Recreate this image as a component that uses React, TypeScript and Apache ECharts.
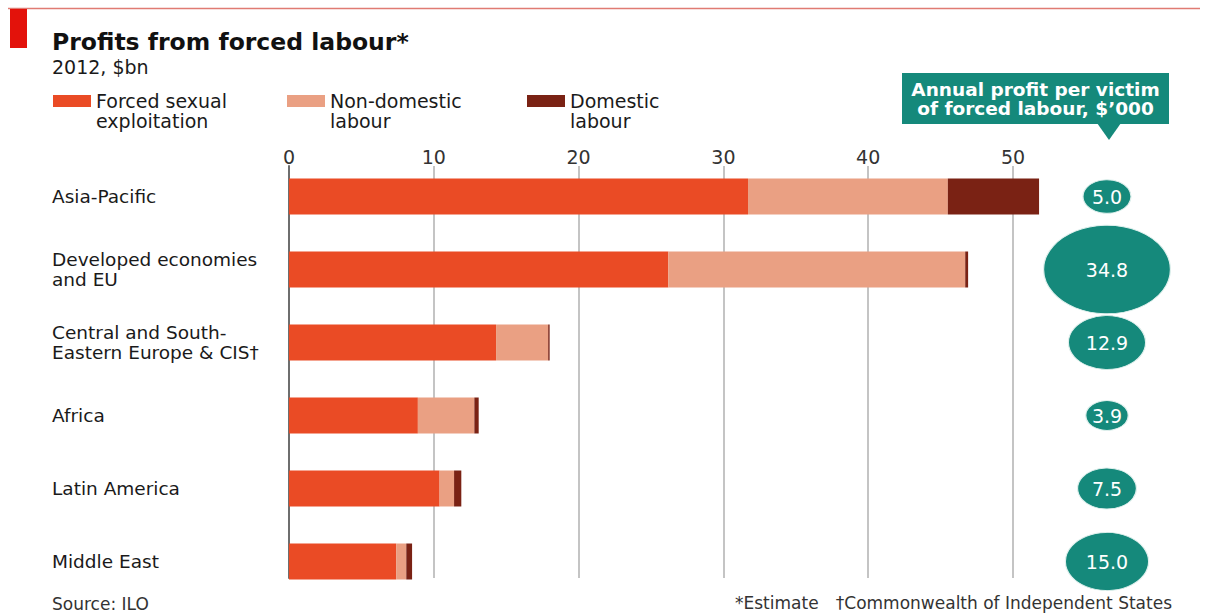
import React, { useEffect, useRef } from "react";
import * as echarts from "echarts";

const FONT = '"DejaVu Sans", "Noto Sans", sans-serif';

const regions = [
  "Asia-Pacific",
  "Developed economies\nand EU",
  "Central and South-\nEastern Europe & CIS†",
  "Africa",
  "Latin America",
  "Middle East",
];
const seriesNames = ["Forced sexual\nexploitation", "Non-domestic\nlabour", "Domestic\nlabour"];
const sexualExploitation = [31.7, 26.2, 14.3, 8.9, 10.4, 7.4];
const nonDomesticLabour = [13.8, 20.5, 3.6, 3.9, 1.0, 0.7];
const domesticLabour = [6.3, 0.2, 0.1, 0.3, 0.5, 0.4];
const profitPerVictim = [5.0, 34.8, 12.9, 3.9, 7.5, 15.0];
const xTicks = [0, 10, 20, 30, 40, 50];

const COLORS = ["#ea4b25", "#eaa083", "#7a2214"];
const TEAL = "#15897b";
const LEGEND_LEFT = [53, 287, 527];

export default function App() {
  const ref = useRef<HTMLDivElement>(null);
  useEffect(() => {
    if (!ref.current) return;
    const chart = echarts.init(ref.current, null, { renderer: "svg" });
    const seriesData = [sexualExploitation, nonDomesticLabour, domesticLabour];
    const option: any = {
      animation: false,
      backgroundColor: "#ffffff",
      textStyle: { fontFamily: FONT },
      grid: [
        { left: 289, top: 160, width: 796.4, height: 438 },
        { left: 289, top: 166, width: 796.4, bottom: 37 },
        { left: 1040, top: 160, width: 134, height: 438 },
      ],
      xAxis: [
        { gridIndex: 0, type: "value", min: 0, max: 55, show: false },
        {
          gridIndex: 1,
          type: "value",
          min: 0,
          max: 55,
          interval: 10,
          position: "top",
          axisLine: { show: false },
          axisTick: { show: false },
          axisLabel: {
            margin: 0,
            fontSize: 19,
            color: "#333",
            showMaxLabel: false,
            formatter: (v: number) => (xTicks.includes(v) ? String(v) : ""),
          },
          splitLine: {
            show: true,
            showMinLine: false,
            showMaxLine: false,
            lineStyle: { color: "#c4c4c4", width: 2 },
          },
        },
        { gridIndex: 2, type: "value", min: 0, max: 1, show: false },
      ],
      yAxis: [
        {
          gridIndex: 0,
          type: "category",
          data: regions,
          inverse: true,
          axisLine: { show: false },
          axisTick: { show: false },
          splitLine: { show: false },
          axisLabel: {
            margin: 237,
            align: "left",
            fontSize: 18.5,
            lineHeight: 20,
            color: "#1a1a1a",
          },
        },
        {
          gridIndex: 1,
          type: "value",
          min: 0,
          max: 1,
          axisLine: { show: true, lineStyle: { color: "#6e6e6e", width: 2 } },
          axisTick: { show: false },
          axisLabel: { show: false },
          splitLine: { show: false },
        },
        { gridIndex: 2, type: "category", data: regions, inverse: true, show: false },
      ],
      legend: seriesNames.map((name, i) => ({
        data: [name],
        left: LEGEND_LEFT[i],
        top: 71,
        padding: 0,
        itemWidth: 38,
        itemHeight: 12,
        icon: "rect",
        selectedMode: false,
        formatter: (n: string) => "\n" + n,
        textStyle: {
          fontSize: 19,
          lineHeight: 20,
          color: "#1a1a1a",
        },
      })),
      series: [
        ...seriesNames.map((name, i) => ({
          name,
          type: "bar",
          xAxisIndex: 0,
          yAxisIndex: 0,
          stack: "total",
          barWidth: 36,
          itemStyle: { color: COLORS[i] },
          data: seriesData[i],
        })),
        {
          type: "scatter",
          xAxisIndex: 2,
          yAxisIndex: 2,
          symbol: "circle",
          data: profitPerVictim.map((v, i) => [0.5, i, v]),
          symbolSize: (val: number[]) => [21.5 * Math.sqrt(val[2]), 15 * Math.sqrt(val[2])],
          itemStyle: { color: TEAL, borderColor: "#dff0ed", borderWidth: 1, opacity: 1 },
          label: {
            show: true,
            position: "inside",
            color: "#ffffff",
            fontSize: 19,
            formatter: (p: any) => p.value[2].toFixed(1),
          },
          silent: true,
        },
      ],
      graphic: [
        {
          type: "line",
          shape: { x1: 8, y1: 8.5, x2: 1200, y2: 8.5 },
          style: { stroke: "#e07b73", lineWidth: 1.5 },
        },
        { type: "rect", shape: { x: 10, y: 9, width: 17, height: 39 }, style: { fill: "#e3120b" } },
        {
          type: "text",
          x: 52,
          y: 42,
          style: {
            text: "Profits from forced labour*",
            font: `bold 23.5px ${FONT}`,
            fill: "#111111",
            textVerticalAlign: "middle",
          },
        },
        {
          type: "text",
          x: 52,
          y: 67,
          style: { text: "2012, $bn", font: `19px ${FONT}`, fill: "#1a1a1a", textVerticalAlign: "middle" },
        },
        { type: "rect", shape: { x: 902, y: 73, width: 267, height: 51 }, style: { fill: TEAL } },
        {
          type: "polygon",
          shape: { points: [[1097, 123], [1121, 123], [1109, 140]] },
          style: { fill: TEAL },
        },
        {
          type: "text",
          x: 1035.5,
          y: 98.5,
          style: {
            text: "Annual profit per victim\nof forced labour, $’000",
            font: `bold 18.5px ${FONT}`,
            lineHeight: 19,
            fill: "#ffffff",
            textAlign: "center",
            textVerticalAlign: "middle",
          },
        },
        {
          type: "text",
          x: 52,
          y: 604,
          style: { text: "Source: ILO", font: `17px ${FONT}`, fill: "#333333", textVerticalAlign: "middle" },
        },
        {
          type: "text",
          x: 735,
          y: 603,
          style: { text: "*Estimate", font: `17px ${FONT}`, fill: "#333333", textVerticalAlign: "middle" },
        },
        {
          type: "text",
          x: 1172,
          y: 603,
          style: {
            text: "†Commonwealth of Independent States",
            font: `17px ${FONT}`,
            fill: "#333333",
            textAlign: "right",
            textVerticalAlign: "middle",
          },
        },
      ],
    };
    chart.setOption(option);
    return () => chart.dispose();
  }, []);
  return (
    <div
      ref={ref}
      style={{ position: "absolute", left: 0, top: 0, width: 1208, height: 615, background: "#fff" }}
    />
  );
}
